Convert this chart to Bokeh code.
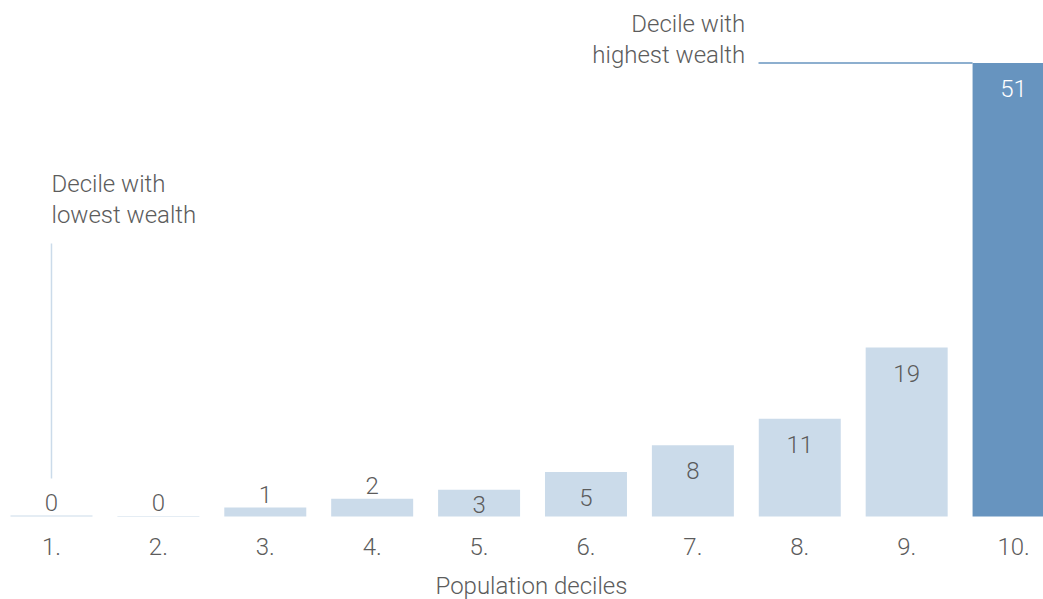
from bokeh.plotting import figure
from bokeh.models import Range1d, ColumnDataSource
from bokeh.core.properties import value
from bokeh.embed import file_html
from bokeh.resources import INLINE

# ---- data ----
deciles = [1, 2, 3, 4, 5, 6, 7, 8, 9, 10]
tick_labels = ["1.", "2.", "3.", "4.", "5.", "6.", "7.", "8.", "9.", "10."]
shares = [0.1, 0.06, 1, 2, 3, 5, 8, 11, 19, 51]
value_labels = ["0", "0", "1", "2", "3", "5", "8", "11", "19", "51"]
x_title = "Population deciles"
low_note = ["Decile with", "lowest wealth"]
high_note = ["Decile with", "highest wealth"]

FONT_NAME = "Roboto Light"
FONT = value(FONT_NAME)
TXT = "#5c5c5c"
LIGHT = "#cbdbea"
DARK = "#6794bf"
BAR_W = 0.767
PX_PER_UNIT = 8.89
BASE_FIX = -8.5  # px correction for the alphabetic baseline

colors = [DARK if s == max(shares) else LIGHT for s in shares]

p = figure(width=1043, height=599, output_backend="svg", toolbar_location=None,
           x_range=Range1d(0.523, 10.28), y_range=Range1d(-9.34, 58.04),
           x_axis_location=None, y_axis_location=None, min_border=0, min_border_left=0,
           min_border_right=0, min_border_top=0, min_border_bottom=0)
p.outline_line_color = None
p.grid.visible = False
p.background_fill_color = "white"
p.border_fill_color = "white"

src = ColumnDataSource(dict(x=deciles, top=shares, color=colors))
p.vbar(x="x", top="top", width=BAR_W, bottom=0, fill_color="color", line_color=None, source=src)

# value labels
above_x, above_y, above_t = [], [], []
in_x, in_y, in_t, in_c = [], [], [], []
for d, s, t in zip(deciles, shares, value_labels):
    if s >= 3:
        in_x.append(d)
        in_y.append(max(s - 34 / PX_PER_UNIT, 3 / PX_PER_UNIT))
        in_t.append(t)
        in_c.append("white" if s == max(shares) else TXT)
    else:
        above_x.append(d)
        above_y.append(s)
        above_t.append(t)

p.text(x=above_x, y=above_y, text=above_t, text_align="center", text_baseline="alphabetic",
       y_offset=-5 + BASE_FIX, text_font=FONT, text_font_size="24px", text_color=TXT)
p.text(x=in_x, y=in_y, text=in_t, text_align="center", text_baseline="alphabetic",
       y_offset=BASE_FIX, text_font=FONT, text_font_size="24px", text_color=in_c)

# category labels and axis title (drawn below the baseline)
p.text(x=deciles, y=[-4.35] * len(deciles), text=tick_labels, text_align="center",
       text_baseline="alphabetic", y_offset=BASE_FIX, text_font=FONT, text_font_size="24px",
       text_color=TXT)
p.text(x=[5.49], y=[-8.75], text=[x_title], text_align="center", text_baseline="alphabetic",
       y_offset=BASE_FIX, text_font=FONT, text_font_size="24px", text_color=TXT)

# annotations
p.segment(x0=[deciles[0]], y0=[4.27], x1=[deciles[0]], y1=[30.7], line_color=LIGHT, line_width=1.5)
p.segment(x0=[7.614], y0=[shares[-1]], x1=[deciles[-1] - BAR_W / 2], y1=[shares[-1]],
          line_color=DARK, line_width=1.5)
p.text(x=[deciles[0], deciles[0]], y=[36.45, 32.96], text=low_note, text_align="left",
       text_baseline="alphabetic", y_offset=BASE_FIX, text_font=FONT, text_font_size="24px",
       text_color=TXT)
p.text(x=[7.49, 7.49], y=[54.44, shares[-1]], text=high_note, text_align="right",
       text_baseline="alphabetic", y_offset=BASE_FIX, text_font=FONT, text_font_size="24px",
       text_color=TXT)

open("out.html", "w").write(file_html(p, INLINE))
